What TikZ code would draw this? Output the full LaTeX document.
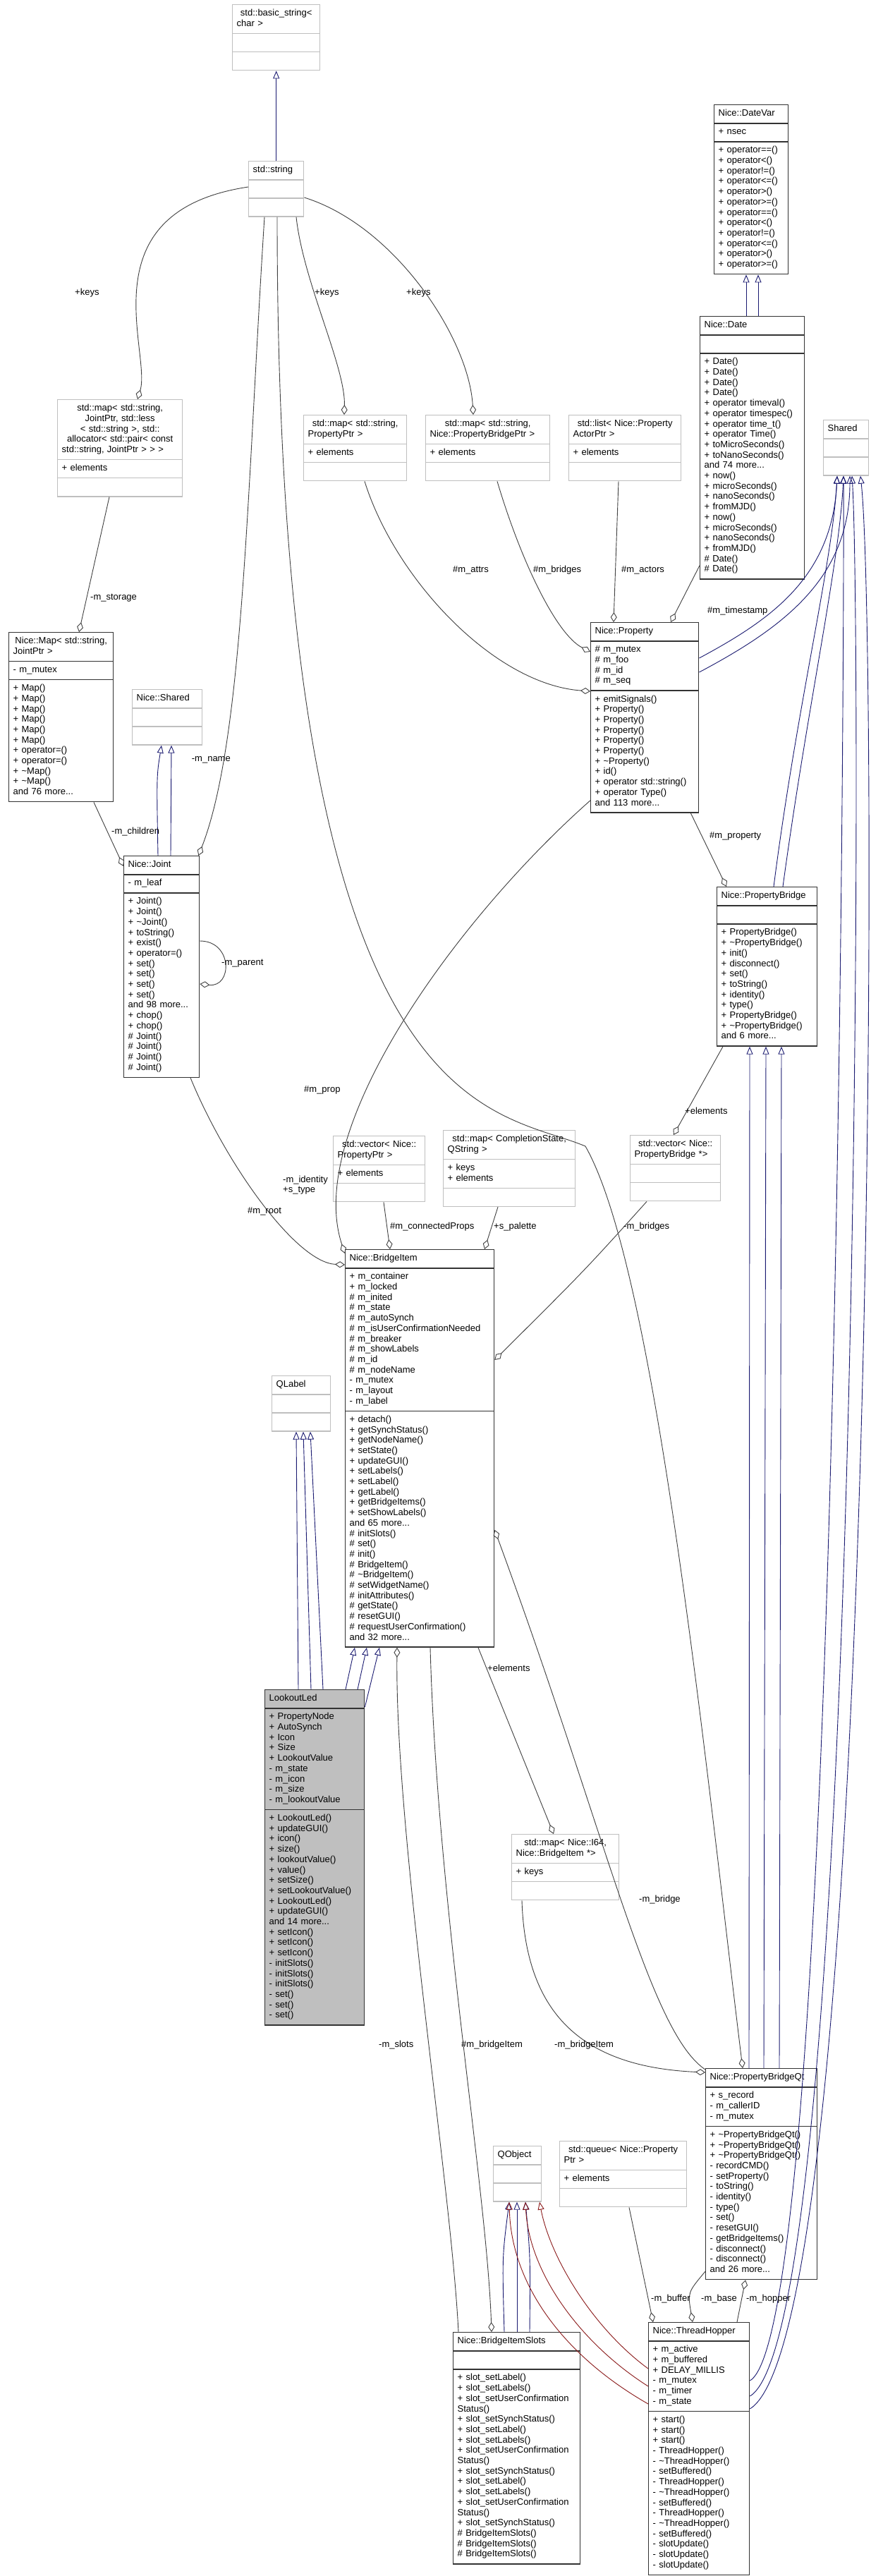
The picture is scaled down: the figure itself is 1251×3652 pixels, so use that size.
\documentclass[tikz,border=0pt]{standalone}
\usepackage{fontspec}
\setmainfont{Liberation Sans}
\usetikzlibrary{positioning, calc, arrows.meta, shapes.multipart}
\definecolor{edgegray}{RGB}{64,64,64}
\definecolor{extgray}{RGB}{191,191,191}
\definecolor{inhblue}{RGB}{25,25,112}
\definecolor{privred}{RGB}{139,26,26}
\setlength{\parindent}{0pt}

\begin{document}
\begin{tikzpicture}[x=1pt, y=-1pt, font=\fontsize{13}{14.7}\selectfont,
  cls/.style={rectangle split, rectangle split parts=3, draw=black!80, line width=1.4pt,
    inner xsep=6pt, inner ysep=5pt, anchor=north west, fill=white},
  ext/.style={cls, draw=extgray},
  leaf/.style={cls, fill=extgray},
  agg/.style={draw=edgegray, line width=0.9pt, -{Diamond[open, length=14pt, width=9pt]}},
  inh/.style={draw=inhblue, line width=0.9pt, -{Triangle[open, length=11pt, width=9pt]}},
  privinh/.style={inh, draw=privred},
  lbl/.style={inner sep=1pt, anchor=west, align=left}]
  \fill[white] (0,0) rectangle (1251,3652);
  \useasboundingbox (0,0) rectangle (1251,3652);

  % classes, top to bottom
  \node[ext, text width=112pt] (basicstr) at (329,6)
    {\centering\strut std::basic\_string<\\char >\strut \nodepart{two}\strut \nodepart{three}\strut};
  \node[ext, text width=66pt] (stdstr) at (352,228)
    {\centering\strut std::string\strut \nodepart{two}\strut \nodepart{three}\strut};
  \node[cls, text width=93pt] (datevar) at (1012,148)
    {\centering\strut Nice::DateVar\strut
     \nodepart{two}\strut + nsec\strut
     \nodepart{three}\strut + operator==()\\ + operator<()\\ + operator!=()\\ + operator<=()\\
     + operator>()\\ + operator>=()\\ + operator==()\\ + operator<()\\ + operator!=()\\
     + operator<=()\\ + operator>()\\ + operator>=()\strut};
  \node[cls, text width=136pt] (date) at (992,448)
    {\centering\strut Nice::Date\strut
     \nodepart{two}\strut
     \nodepart{three}\strut + Date()\\ + Date()\\ + Date()\\ + Date()\\ + operator timeval()\\
     + operator timespec()\\ + operator time\_t()\\ + operator Time()\\ + toMicroSeconds()\\
     + toNanoSeconds()\\ and 74 more...\\ + now()\\ + microSeconds()\\ + nanoSeconds()\\
     + fromMJD()\\ + now()\\ + microSeconds()\\ + nanoSeconds()\\ + fromMJD()\\
     \# Date()\\ \# Date()\strut};
  \node[ext, text width=165pt] (mapjoint) at (81,566)
    {\centering\strut std::map< std::string,\\ JointPtr, std::less\\< std::string >, std::\\
     allocator< std::pair< const\\ std::string, JointPtr > > >\strut
     \nodepart{two}\strut + elements\strut \nodepart{three}\strut};
  \node[ext, text width=134pt] (mapprop) at (430,588)
    {\centering\strut std::map< std::string,\\PropertyPtr >\strut
     \nodepart{two}\strut + elements\strut \nodepart{three}\strut};
  \node[ext, text width=164pt] (mapbridge) at (603,588)
    {\centering\strut std::map< std::string,\\ Nice::PropertyBridgePtr >\strut
     \nodepart{two}\strut + elements\strut \nodepart{three}\strut};
  \node[ext, text width=147pt] (listactor) at (806,588)
    {\centering\strut std::list< Nice::Property\\ActorPtr >\strut
     \nodepart{two}\strut + elements\strut \nodepart{three}\strut};
  \node[ext, text width=52pt] (shared) at (1167,595)
    {\centering\strut Shared\strut \nodepart{two}\strut \nodepart{three}\strut};
  \node[cls, text width=136pt] (nicemap) at (12,896)
    {\centering\strut Nice::Map< std::string,\\ JointPtr >\strut
     \nodepart{two}\strut - m\_mutex\strut
     \nodepart{three}\strut + Map()\\ + Map()\\ + Map()\\ + Map()\\ + Map()\\ + Map()\\
     + operator=()\\ + operator=()\\ + \textasciitilde Map()\\ + \textasciitilde Map()\\
     and 76 more...\strut};
  \node[ext, text width=87pt] (niceshared) at (187,977)
    {\centering\strut Nice::Shared\strut \nodepart{two}\strut \nodepart{three}\strut};
  \node[cls, text width=141pt] (prop) at (837,882)
    {\centering\strut Nice::Property\strut
     \nodepart{two}\strut \# m\_mutex\\ \# m\_foo\\ \# m\_id\\ \# m\_seq\strut
     \nodepart{three}\strut + emitSignals()\\ + Property()\\ + Property()\\ + Property()\\
     + Property()\\ + Property()\\ + \textasciitilde Property()\\ + id()\\
     + operator std::string()\\ + operator Type()\\ and 113 more...\strut};
  \node[cls, text width=95pt] (joint) at (175,1213)
    {\centering\strut Nice::Joint\strut
     \nodepart{two}\strut - m\_leaf\strut
     \nodepart{three}\strut + Joint()\\ + Joint()\\ + \textasciitilde Joint()\\ + toString()\\
     + exist()\\ + operator=()\\ + set()\\ + set()\\ + set()\\ + set()\\ and 98 more...\\
     + chop()\\ + chop()\\ \# Joint()\\ \# Joint()\\ \# Joint()\\ \# Joint()\strut};
  \node[cls, text width=130pt] (pbridge) at (1016,1257)
    {\centering\strut Nice::PropertyBridge\strut
     \nodepart{two}\strut
     \nodepart{three}\strut + PropertyBridge()\\ + \textasciitilde PropertyBridge()\\ + init()\\
     + disconnect()\\ + set()\\ + toString()\\ + identity()\\ + type()\\ + PropertyBridge()\\
     + \textasciitilde PropertyBridge()\\ and 6 more...\strut};
  \node[ext, text width=118pt] (vecprop) at (472,1610)
    {\centering\strut std::vector< Nice::\\PropertyPtr >\strut
     \nodepart{two}\strut + elements\strut \nodepart{three}\strut};
  \node[ext, text width=175pt] (mapcomp) at (628,1602)
    {\centering\strut std::map< CompletionState,\\QString >\strut
     \nodepart{two}\strut + keys\\ + elements\strut \nodepart{three}\strut};
  \node[ext, text width=116pt] (vecpb) at (893,1609)
    {\centering\strut std::vector< Nice::\\PropertyBridge *>\strut
     \nodepart{two}\strut \nodepart{three}\strut};
  \node[cls, text width=199pt] (bitem) at (489,1771)
    {\centering\strut Nice::BridgeItem\strut
     \nodepart{two}\strut + m\_container\\ + m\_locked\\ \# m\_inited\\ \# m\_state\\
     \# m\_autoSynch\\ \# m\_isUserConfirmationNeeded\\ \# m\_breaker\\ \# m\_showLabels\\
     \# m\_id\\ \# m\_nodeName\\ - m\_mutex\\ - m\_layout\\ - m\_label\strut
     \nodepart{three}\strut + detach()\\ + getSynchStatus()\\ + getNodeName()\\ + setState()\\
     + updateGUI()\\ + setLabels()\\ + setLabel()\\ + getLabel()\\ + getBridgeItems()\\
     + setShowLabels()\\ and 65 more...\\ \# initSlots()\\ \# set()\\ \# init()\\
     \# BridgeItem()\\ \# \textasciitilde BridgeItem()\\ \# setWidgetName()\\ \# initAttributes()\\
     \# getState()\\ \# resetGUI()\\ \# requestUserConfirmation()\\ and 32 more...\strut};
  \node[ext, text width=71pt] (qlabel) at (385,1950)
    {\centering\strut QLabel\strut \nodepart{two}\strut \nodepart{three}\strut};
  \node[leaf, text width=129pt] (lookout) at (375,2395)
    {\centering\strut LookoutLed\strut
     \nodepart{two}\strut + PropertyNode\\ + AutoSynch\\ + Icon\\ + Size\\ + LookoutValue\\
     - m\_state\\ - m\_icon\\ - m\_size\\ - m\_lookoutValue\strut
     \nodepart{three}\strut + LookoutLed()\\ + updateGUI()\\ + icon()\\ + size()\\
     + lookoutValue()\\ + value()\\ + setSize()\\ + setLookoutValue()\\ + LookoutLed()\\
     + updateGUI()\\ and 14 more...\\ + setIcon()\\ + setIcon()\\ + setIcon()\\
     - initSlots()\\ - initSlots()\\ - initSlots()\\ - set()\\ - set()\\ - set()\strut};
  \node[ext, text width=140pt] (mapid) at (725,2600)
    {\centering\strut std::map< Nice::I64,\\ Nice::BridgeItem *>\strut
     \nodepart{two}\strut + keys\strut \nodepart{three}\strut};
  \node[cls, text width=146pt] (pbqt) at (1000,2932)
    {\centering\strut Nice::PropertyBridgeQt\strut
     \nodepart{two}\strut + s\_record\\ - m\_callerID\\ - m\_mutex\strut
     \nodepart{three}\strut + \textasciitilde PropertyBridgeQt()\\ + \textasciitilde PropertyBridgeQt()\\
     + \textasciitilde PropertyBridgeQt()\\ - recordCMD()\\ - setProperty()\\ - toString()\\
     - identity()\\ - type()\\ - set()\\ - resetGUI()\\ - getBridgeItems()\\ - disconnect()\\
     - disconnect()\\ and 26 more...\strut};
  \node[ext, text width=56pt] (qobject) at (699,3042)
    {\centering\strut QObject\strut \nodepart{two}\strut \nodepart{three}\strut};
  \node[ext, text width=168pt] (queue) at (793,3035)
    {\centering\strut std::queue< Nice::Property\\Ptr >\strut
     \nodepart{two}\strut + elements\strut \nodepart{three}\strut};
  \node[cls, text width=168pt] (slots) at (642,3306)
    {\centering\strut Nice::BridgeItemSlots\strut
     \nodepart{two}\strut
     \nodepart{three}\strut + slot\_setLabel()\\ + slot\_setLabels()\\ + slot\_setUserConfirmation\\
     Status()\\ + slot\_setSynchStatus()\\ + slot\_setLabel()\\ + slot\_setLabels()\\
     + slot\_setUserConfirmation\\ Status()\\ + slot\_setSynchStatus()\\ + slot\_setLabel()\\
     + slot\_setLabels()\\ + slot\_setUserConfirmation\\ Status()\\ + slot\_setSynchStatus()\\
     \# BridgeItemSlots()\\ \# BridgeItemSlots()\\ \# BridgeItemSlots()\strut};
  \node[cls, text width=131pt] (hopper) at (919,3292)
    {\centering\strut Nice::ThreadHopper\strut
     \nodepart{two}\strut + m\_active\\ + m\_buffered\\ + DELAY\_MILLIS\\ - m\_mutex\\
     - m\_timer\\ - m\_state\strut
     \nodepart{three}\strut + start()\\ + start()\\ + start()\\ - ThreadHopper()\\
     - \textasciitilde ThreadHopper()\\ - setBuffered()\\ - ThreadHopper()\\ - \textasciitilde ThreadHopper()\\
     - setBuffered()\\ - ThreadHopper()\\ - \textasciitilde ThreadHopper()\\ - setBuffered()\\
     - slotUpdate()\\ - slotUpdate()\\ - slotUpdate()\strut};

  % inheritance
  \draw[inh] (stdstr.north) -- (basicstr.south);
  \draw[inh] ($(date.north west)+(66,0)$) -- ($(datevar.south west)+(46,0)$);
  \draw[inh] ($(date.north west)+(83,0)$) -- ($(datevar.south west)+(63,0)$);
  \draw[inh] ($(joint.north west)+(49,0)$) .. controls (222,1100) .. ($(niceshared.south west)+(42,0)$);
  \draw[inh] ($(joint.north west)+(67,0)$) -- ($(niceshared.south west)+(56,0)$);
  \draw[inh] ($(prop.north east)+(0,51)$) .. controls (1090,880) and (1180,820) .. ($(shared.south west)+(20,0)$);
  \draw[inh] ($(prop.north east)+(0,71)$) .. controls (1110,890) and (1205,820) .. ($(shared.south west)+(38,0)$);
  \draw[inh] ($(pbridge.north west)+(81,0)$) .. controls (1130,1000) and (1180,800) .. ($(shared.south west)+(20,0)$);
  \draw[inh] ($(pbridge.north west)+(94,0)$) .. controls (1145,1000) and (1190,800) .. ($(shared.south west)+(29,0)$);
  \draw[inh] ($(hopper.north east)+(0,83)$) .. controls (1190,3300) and (1197,900) .. ($(shared.south west)+(29,0)$);
  \draw[inh] ($(hopper.north east)+(0,105)$) .. controls (1222,3300) and (1222,900) .. ($(shared.south west)+(41,0)$);
  \draw[inh] ($(hopper.north east)+(0,123)$) .. controls (1245,3300) and (1245,900) .. ($(shared.south west)+(53,0)$);
  \draw[inh] ($(lookout.north west)+(48,0)$) -- ($(qlabel.south west)+(35,0)$);
  \draw[inh] ($(lookout.north west)+(66,0)$) -- ($(qlabel.south west)+(45,0)$);
  \draw[inh] ($(lookout.north west)+(83,0)$) -- ($(qlabel.south west)+(55,0)$);
  \draw[inh] ($(lookout.north west)+(115,0)$) -- ($(bitem.south west)+(14,0)$);
  \draw[inh] ($(lookout.north west)+(132,0)$) -- ($(bitem.south west)+(31,0)$);
  \draw[inh] ($(lookout.north east)+(0,25)$) -- ($(bitem.south west)+(49,0)$);
  \draw[inh] ($(pbqt.north west)+(62,0)$) -- ($(pbridge.south west)+(47,0)$);
  \draw[inh] ($(pbqt.north west)+(83,0)$) -- ($(pbridge.south west)+(70,0)$);
  \draw[inh] ($(pbqt.north west)+(105,0)$) -- ($(pbridge.south west)+(92,0)$);
  \draw[inh] ($(slots.north west)+(73,0)$) .. controls (712,3200) .. ($(qobject.south west)+(23,0)$);
  \draw[inh] ($(slots.north west)+(91,0)$) -- ($(qobject.south west)+(34,0)$);
  \draw[inh] ($(slots.north west)+(109,0)$) .. controls (752,3200) .. ($(qobject.south west)+(46,0)$);
  \draw[privinh] ($(hopper.north west)+(0,66)$) .. controls (840,3300) and (780,3200) .. ($(qobject.south west)+(66,0)$);
  \draw[privinh] ($(hopper.north west)+(0,91)$) .. controls (820,3320) and (750,3220) .. ($(qobject.south west)+(46,0)$);
  \draw[privinh] ($(hopper.north west)+(0,116)$) .. controls (800,3340) and (725,3240) .. ($(qobject.south west)+(23,0)$);

  % members
  \draw[agg] ($(stdstr.north west)+(0,37)$) .. controls (120,300) and (215,500) .. ($(mapjoint.north west)+(114,0)$);
  \draw[agg] ($(stdstr.south west)+(68,0)$) .. controls (430,400) and (490,520) .. ($(mapprop.north west)+(58,0)$);
  \draw[agg] ($(stdstr.north east)+(0,52)$) .. controls (560,320) and (665,480) .. ($(mapbridge.north west)+(68,0)$);
  \draw[agg] ($(stdstr.south west)+(23,0)$) .. controls (350,700) and (345,1050) .. ($(joint.north east)+(-2,0)$);
  \draw[agg] ($(stdstr.south west)+(41,0)$) .. controls (393,1600) and (700,1570) .. (830,1625)
    .. controls (930,1800) and (1000,2500) .. ($(pbqt.north west)+(53,0)$);
  \draw[agg] ($(mapjoint.south west)+(74,0)$) -- ($(nicemap.north west)+(100,0)$);
  \draw[agg] ($(nicemap.south west)+(121,0)$) -- ($(joint.north west)+(0,15)$);
  \draw[agg] ($(joint.north east)+(0,121)$) .. controls (330,1334) and (330,1400) .. ($(joint.north east)+(0,182)$);
  \draw[agg] ($(mapprop.south west)+(87,0)$) .. controls (560,820) and (700,970) .. ($(prop.north west)+(0,98)$);
  \draw[agg] ($(mapbridge.south west)+(102,0)$) .. controls (740,800) and (790,900) .. ($(prop.north west)+(0,42)$);
  \draw[agg] ($(listactor.south west)+(71,0)$) -- ($(prop.north west)+(33,0)$);
  \draw[agg] ($(date.south west)+(0,-20)$) -- ($(prop.north west)+(114,0)$);
  \draw[agg] ($(prop.south east)+(-12,0)$) -- ($(pbridge.north west)+(14,0)$);
  \draw[agg] ($(pbridge.south west)+(9,0)$) -- ($(vecpb.north west)+(62,0)$);
  \draw[agg] ($(prop.south west)+(0,-18)$) .. controls (650,1300) and (430,1600) .. ($(bitem.north west)+(0,6)$);
  \draw[agg] ($(joint.south west)+(95,0)$) .. controls (320,1650) and (420,1790) .. ($(bitem.north west)+(0,22)$);
  \draw[agg] ($(vecprop.south west)+(72,0)$) -- ($(bitem.north west)+(64,0)$);
  \draw[agg] ($(mapcomp.south west)+(78,0)$) -- ($(bitem.north west)+(198,0)$);
  \draw[agg] ($(vecpb.south west)+(24,0)$) .. controls (830,1800) .. ($(bitem.north east)+(0,157)$);
  \draw[agg] ($(slots.north west)+(8,0)$) .. controls (640,3100) and (560,2600) .. ($(bitem.south west)+(74,0)$);
  \draw[agg] ($(bitem.south west)+(121,0)$) .. controls (620,2700) and (690,3100) .. ($(slots.north west)+(55,0)$);
  \draw[agg] ($(bitem.south west)+(189,0)$) -- ($(mapid.north west)+(60,0)$);
  \draw[agg] ($(mapid.south west)+(15,0)$) .. controls (745,2850) and (820,2930) .. ($(pbqt.north west)+(0,6)$);
  \draw[agg] ($(pbqt.north west)+(0,2)$) .. controls (920,2880) and (860,2600) .. ($(bitem.north east)+(0,398)$);
  \draw[agg] ($(queue.south west)+(99,0)$) -- ($(hopper.north west)+(7,0)$);
  \draw[agg] ($(pbqt.south west)+(0,-12)$) .. controls (975,3250) .. ($(hopper.north west)+(63,0)$);
  \draw[agg] ($(hopper.north west)+(126,0)$) -- ($(pbqt.south west)+(57,0)$);

  % member names
  \node[lbl] (lkeysa) at (105,415) {+keys};
  \node[lbl] (lkeysb) at (445,415) {+keys};
  \node[lbl] (lkeysc) at (575,415) {+keys};
  \node[lbl, anchor=east] (lname) at (328,1077) {-m\_name};
  \node[lbl] (lident) at (400,1680) {-m\_identity\\+s\_type};
  \node[lbl] (lstorage) at (127,848) {-m\_storage};
  \node[lbl] (lchildren) at (157,1179) {-m\_children};
  \node[lbl] (lparent) at (313,1366) {-m\_parent};
  \node[lbl] (lattrs) at (641,808) {\#m\_attrs};
  \node[lbl] (lbridges) at (755,808) {\#m\_bridges};
  \node[lbl] (lactors) at (880,808) {\#m\_actors};
  \node[lbl] (lstamp) at (1002,866) {\#m\_timestamp};
  \node[lbl] (lproperty) at (1005,1185) {\#m\_property};
  \node[lbl] (lelems) at (970,1575) {+elements};
  \node[lbl] (lprop) at (430,1545) {\#m\_prop};
  \node[lbl] (lroot) at (350,1717) {\#m\_root};
  \node[lbl] (lconn) at (552,1739) {\#m\_connectedProps};
  \node[lbl] (lpalette) at (699,1739) {+s\_palette};
  \node[lbl] (lbridgesb) at (883,1739) {-m\_bridges};
  \node[lbl] (lelemsb) at (690,2365) {+elements};
  \node[lbl] (lbridge) at (905,2693) {-m\_bridge};
  \node[lbl] (lslots) at (536,2899) {-m\_slots};
  \node[lbl] (lbitem) at (653,2899) {\#m\_bridgeItem};
  \node[lbl] (lbitemb) at (785,2899) {-m\_bridgeItem};
  \node[lbl] (lbuffer) at (922,3259) {-m\_buffer};
  \node[lbl] (lbase) at (993,3259) {-m\_base};
  \node[lbl] (lhopper) at (1057,3259) {-m\_hopper};
\end{tikzpicture}
\end{document}
